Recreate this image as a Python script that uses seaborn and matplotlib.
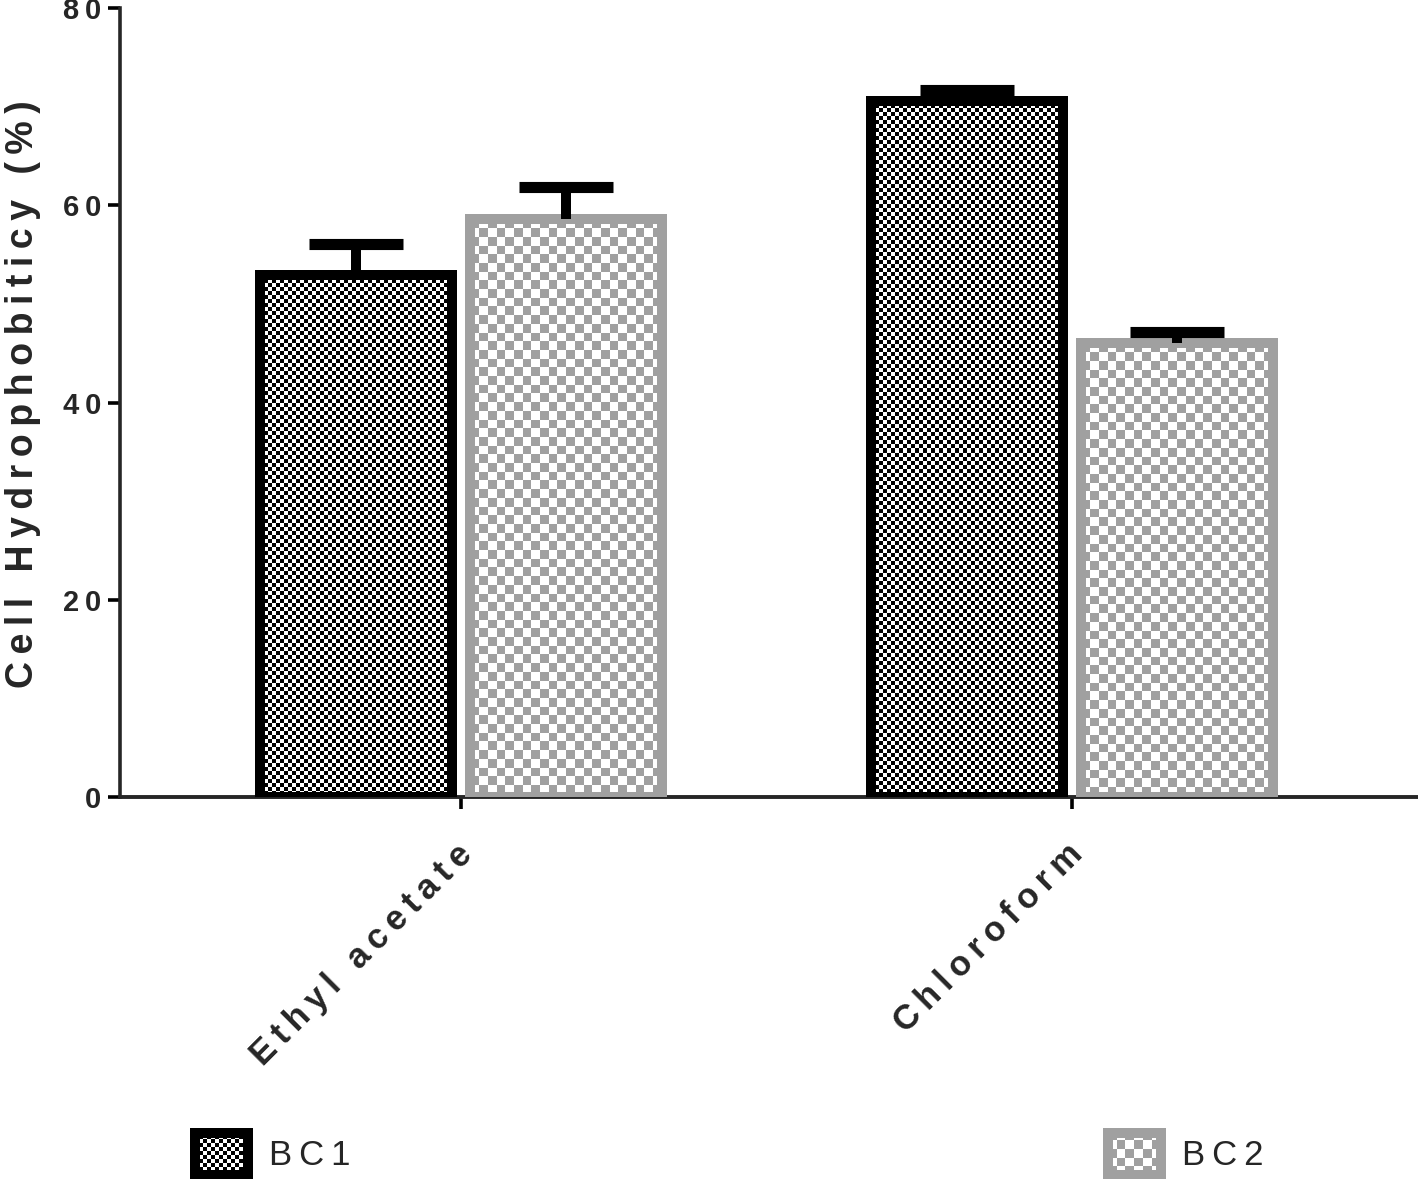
import numpy as np
import pandas as pd
import matplotlib
matplotlib.use("Agg")
import matplotlib.pyplot as plt
import seaborn as sns
from matplotlib.colors import ListedColormap
from matplotlib.patches import Rectangle
from matplotlib.legend_handler import HandlerBase
from matplotlib.transforms import ScaledTranslation

# data
solvents = ["Ethyl acetate", "Chloroform"]
strains = ["BC1", "BC2"]
bc1_mean = [52.9, 70.6]
bc1_err = [3.2, 1.1]
bc2_mean = [58.6, 46.0]
bc2_err = [3.2, 1.1]
y_ticks = [0, 20, 40, 60, 80]

edge_colors = {"BC1": "black", "BC2": "#a0a0a0"}
cell_px = {"BC1": 4.0, "BC2": 8.7}
means = {"BC1": bc1_mean, "BC2": bc2_mean}
errs = {"BC1": bc1_err, "BC2": bc2_err}

DPI = 100
W, H = 1418, 1179


def spaced(s, sep="\u2009"):
    """Fake letter spacing with thin spaces."""
    return sep.join(s)


class CheckerHandler(HandlerBase):
    """Legend swatch with a checkerboard fill."""

    def __init__(self, dark, edge, cell):
        super().__init__()
        self.dark, self.edge, self.cell = dark, edge, cell

    def create_artists(self, legend, orig_handle, xdescent, ydescent,
                       width, height, fontsize, trans):
        x0, y0 = -xdescent, -ydescent
        cell = self.cell * 72 / DPI
        arts = [Rectangle((x0, y0), width, height, facecolor="white",
                          edgecolor="none", transform=trans)]
        nx, ny = int(np.ceil(width / cell)), int(np.ceil(height / cell))
        for i in range(ny):
            for j in range(nx):
                if (i + j) % 2 == 0:
                    cw = min(cell, width - j * cell)
                    ch = min(cell, height - i * cell)
                    arts.append(Rectangle((x0 + j * cell, y0 + i * cell), cw, ch,
                                          facecolor=self.dark, edgecolor="none",
                                          transform=trans))
        arts.append(Rectangle((x0, y0), width, height, facecolor="none",
                              edgecolor=self.edge, linewidth=7.2, transform=trans))
        return arts


def add_checker(ax, bar, dark, cell):
    """Fill a bar with a pixel checkerboard, clipped to the bar outline."""
    x0, w, h = bar.get_x(), bar.get_width(), bar.get_height()
    px0, py0 = ax.transData.transform((x0, 0))
    px1, py1 = ax.transData.transform((x0 + w, h))
    nx, ny = int(round(px1 - px0)), int(round(py1 - py0))
    jj, ii = np.meshgrid(np.arange(nx), np.arange(ny))
    arr = ((np.floor(jj / cell) + np.floor(ii / cell)) % 2).astype(float)
    im = ax.imshow(arr, extent=(x0, x0 + w, 0, h), origin="upper",
                   cmap=ListedColormap([dark, "white"]), vmin=0, vmax=1,
                   interpolation="nearest", aspect="auto", zorder=2)
    im.set_clip_path(bar)


sns.set_style("ticks")
plt.rcParams["font.family"] = ["Liberation Sans", "DejaVu Sans"]

df = pd.DataFrame({
    "solvent": solvents * 2,
    "strain": [strains[0]] * 2 + [strains[1]] * 2,
    "value": bc1_mean + bc2_mean,
})

fig = plt.figure(figsize=(W / DPI, H / DPI), dpi=DPI)
ax = fig.add_axes([120 / W, 382 / H, 1298 / W, 789 / H])

sns.barplot(data=df, x="solvent", y="value", hue="strain", order=solvents,
            hue_order=strains, width=0.688, gap=0.086, errorbar=None,
            legend=False, linewidth=7.2, ax=ax)

ax.set_xlim(-0.559, 1.567)
ax.set_ylim(0, 80)

for cont, strain in zip(ax.containers, strains):
    dark = edge_colors[strain]
    for bar in cont:
        bar.set_facecolor("none")
        bar.set_edgecolor(dark)
        bar.set_linewidth(7.2)
        bar.set_zorder(3)
        add_checker(ax, bar, dark, cell_px[strain])
    xs = [b.get_x() + b.get_width() / 2 for b in cont]
    m = means[strain]
    _, caps, _ = ax.errorbar(xs, m, yerr=[np.zeros(len(m)), errs[strain]],
                             fmt="none", ecolor="black", elinewidth=7.2,
                             capsize=34, capthick=8, zorder=4)
    # only the upper half of the error bar is shown
    for cl in caps:
        if np.allclose(cl.get_ydata(), m):
            cl.set_visible(False)

ax.set_xlim(-0.559, 1.567)
ax.set_ylim(0, 80)

sns.despine(ax=ax)
ax.spines["left"].set_linewidth(2.6)
ax.spines["bottom"].set_linewidth(2.8)
ax.tick_params(axis="both", length=8.5, width=2.6, direction="out", color="black")
ax.tick_params(axis="y", pad=5)

ax.set_yticks(y_ticks)
ax.set_yticklabels([spaced(str(t)) for t in y_ticks], fontsize=21, fontweight="bold")
ax.set_ylabel(spaced("Cell Hydrophobiticy (%)"), fontsize=27, fontweight="bold")
ax.yaxis.set_label_coords(-0.061, 0.51)

ax.set_xlabel("")
ax.set_xticks(range(len(solvents)))
ax.set_xticklabels([spaced(s) for s in solvents], rotation=45, ha="right",
                   va="top", rotation_mode="anchor", fontsize=25, fontweight="bold")
offset = ScaledTranslation(-6 / DPI, -24 / DPI, fig.dpi_scale_trans)
for lbl in ax.get_xticklabels():
    lbl.set_transform(lbl.get_transform() + offset)

# two separate legend entries at the bottom, as in the original figure
legend_pos = {"BC1": 195, "BC2": 1108}
for strain in strains:
    h = Rectangle((0, 0), 1, 1)
    fig.legend(handles=[h], labels=[spaced(strain)], loc="center left",
               bbox_to_anchor=(legend_pos[strain] / W, (H - 1154) / H),
               frameon=False, fontsize=25, borderpad=0, borderaxespad=0,
               handlelength=1.53, handleheight=1.5, handletextpad=0.6,
               handler_map={h: CheckerHandler(edge_colors[strain], edge_colors[strain],
                                              cell_px[strain])})

fig.savefig("out.png", dpi=DPI)
